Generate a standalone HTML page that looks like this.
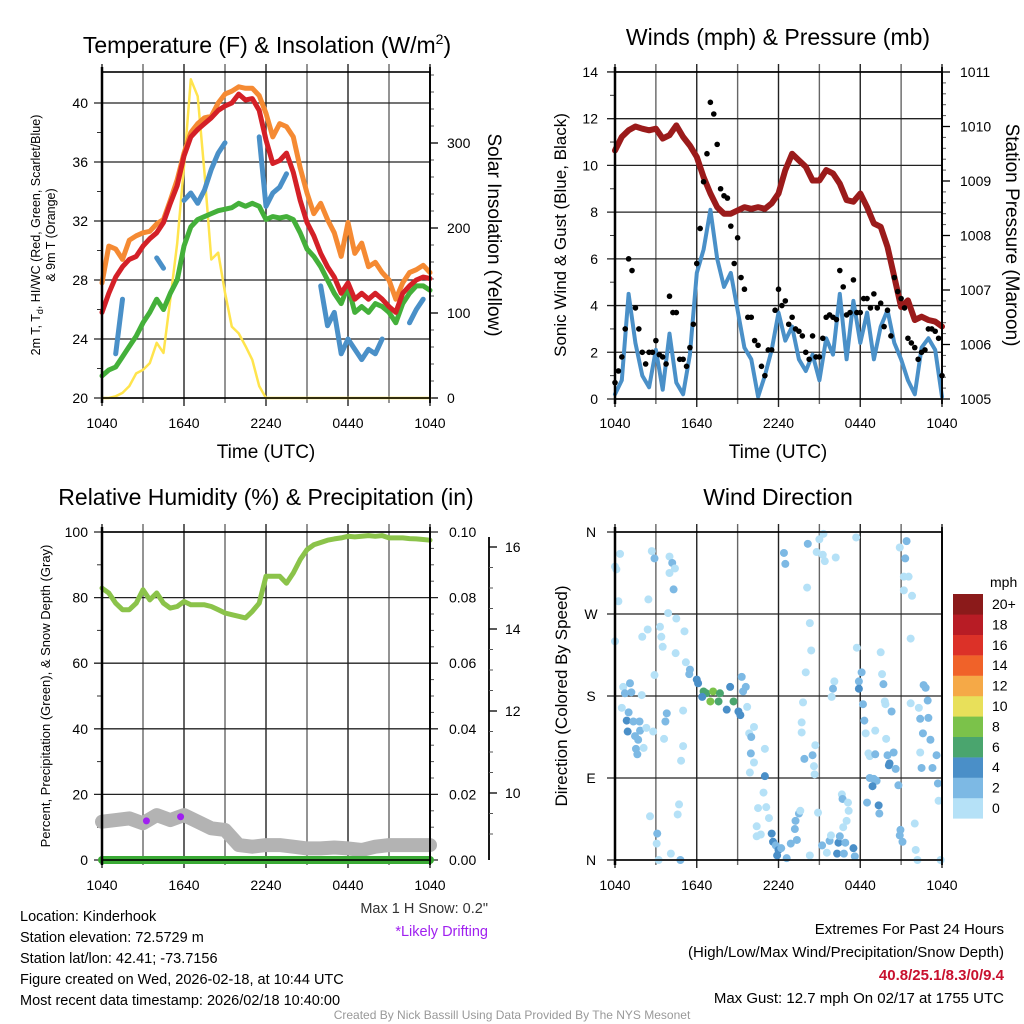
<!DOCTYPE html>
<html><head><meta charset="utf-8"><style>
html,body{margin:0;padding:0;background:#fff;}
svg{display:block;font-family:"Liberation Sans",sans-serif;}
</style></head><body>
<svg id="chart" width="1024" height="1024" viewBox="0 0 1024 1024" xmlns="http://www.w3.org/2000/svg">
<rect width="1024" height="1024" fill="#fff"/>
<g id="layer"></g>
<text x="267" y="53" font-size="23" text-anchor="middle">Temperature (F) &amp; Insolation (W/m<tspan dy="-9" font-size="14">2</tspan><tspan dy="9">)</tspan></text>
<text x="778" y="45" font-size="23" text-anchor="middle">Winds (mph) &amp; Pressure (mb)</text>
<text x="266" y="505" font-size="23" text-anchor="middle">Relative Humidity (%) &amp; Precipitation (in)</text>
<text x="778" y="505" font-size="23" text-anchor="middle">Wind Direction</text>
<text x="266" y="458" font-size="19" text-anchor="middle">Time (UTC)</text>
<text x="778" y="458" font-size="19" text-anchor="middle">Time (UTC)</text>
<text transform="translate(40,235) rotate(-90)" font-size="12.5" text-anchor="middle">2m T, T<tspan dy="3" font-size="9">d</tspan><tspan dy="-3">, HI/WC (Red, Green, Scarlet/Blue)</tspan></text>
<text transform="translate(55,235) rotate(-90)" font-size="12.5" text-anchor="middle">&amp; 9m T (Orange)</text>
<text transform="translate(488,235) rotate(90)" font-size="19" text-anchor="middle">Solar Insolation (Yellow)</text>
<text transform="translate(566,235) rotate(-90)" font-size="17" text-anchor="middle">Sonic Wind &amp; Gust (Blue, Black)</text>
<text transform="translate(1006,235) rotate(90)" font-size="19" text-anchor="middle">Station Pressure (Maroon)</text>
<text transform="translate(50,696) rotate(-90)" font-size="13" text-anchor="middle">Percent, Precipitation (Green), &amp; Snow Depth (Gray)</text>
<text transform="translate(567,696) rotate(-90)" font-size="17" text-anchor="middle">Direction (Colored By Speed)</text>
<text x="990" y="587" font-size="14">mph</text>
<g font-size="14.5">
<text x="20" y="921">Location: Kinderhook</text>
<text x="20" y="942">Station elevation: 72.5729 m</text>
<text x="20" y="963">Station lat/lon: 42.41; -73.7156</text>
<text x="20" y="984">Figure created on Wed, 2026-02-18, at 10:44 UTC</text>
<text x="20" y="1005">Most recent data timestamp: 2026/02/18 10:40:00</text>
</g>
<text x="488" y="913" font-size="14.5" text-anchor="end" fill="#333">Max 1 H Snow: 0.2"</text>
<text x="488" y="936" font-size="14.5" text-anchor="end" fill="#a020f0">*Likely Drifting</text>
<g font-size="15" text-anchor="end">
<text x="1004" y="934">Extremes For Past 24 Hours</text>
<text x="1004" y="957">(High/Low/Max Wind/Precipitation/Snow Depth)</text>
<text x="1004" y="980" fill="#c8102e" font-weight="bold">40.8/25.1/8.3/0/9.4</text>
<text x="1004" y="1003">Max Gust: 12.7 mph On 02/17 at 1755 UTC</text>
</g>
<text x="512" y="1019" font-size="12" text-anchor="middle" fill="#999">Created By Nick Bassill Using Data Provided By The NYS Mesonet</text>
</svg>
<script>
const timeLabels=["1040","1640","2240","0440","1040"];
const tempTicks=[20,24,28,32,36,40];
const solarTicks=[0,100,200,300];
const windTicks=[0,2,4,6,8,10,12,14];
const presTicks=[1005,1006,1007,1008,1009,1010,1011];
const rhTicks=[0,20,40,60,80,100];
const precipTicks=["0.00","0.02","0.04","0.06","0.08","0.10"];
const snowTicks=[10,12,14,16];
const dirTicks=["N","E","S","W","N"];
const speedBins=["0","2","4","6","8","10","12","14","16","18","20+"];
// half-hourly series from 10:40 UTC
const temp2m=[25.8,27.1,28.2,28.9,29.4,29.6,30.3,30.8,31.2,31.9,33.2,34.4,36.4,37.7,38.2,38.6,39.0,39.5,39.8,40.0,40.6,40.2,40.3,39.5,37.5,35.9,36.1,36.6,35.3,33.4,31.9,31.0,29.8,28.9,28.2,27.1,27.8,26.7,27.1,26.7,27.1,26.7,26.2,25.8,27.1,27.6,28.0,28.2,28.1];
const temp9m=[27.8,30.3,30.1,29.4,30.7,31.0,31.2,31.3,31.8,32.1,33.4,34.8,36.6,38.0,38.6,39.0,39.1,40.0,40.6,40.8,41.1,41.0,41.0,40.5,39.3,37.7,38.6,38.4,37.7,35.6,33.9,32.5,33.2,32.1,31.2,29.6,31.9,29.8,30.5,28.9,29.2,28.5,28.0,26.7,27.8,28.5,28.7,29.0,28.5];
const dewpoint=[21.5,21.9,22.1,22.8,23.5,24.2,25.1,25.8,26.7,26.0,27.1,28.0,30.3,31.6,32.1,32.3,32.5,32.7,32.8,32.9,33.2,33.0,33.2,33.0,32.1,32.3,32.2,32.3,32.1,31.2,30.1,29.6,28.9,28.0,27.1,26.4,27.6,25.8,26.2,25.8,26.4,26.2,25.8,25.1,26.4,27.1,27.6,27.6,27.3];
const windChill=[null,null,23.0,26.7,null,null,null,null,29.5,28.8,null,null,33.4,33.9,33.2,34.1,35.5,36.6,37.3,null,null,null,null,37.7,33.0,33.9,34.3,35.2,null,null,null,null,27.6,24.9,25.8,23.0,24.0,23.3,22.6,23.3,23.0,24.0,null,null,null,25.1,26.0,26.7,null];
const solar=[0,0,2,6,14,29,33,41,65,53,116,182,273,375,355,265,163,171,124,84,76,61,45,14,0,0,0,0,0,0,0,0,0,0,0,0,0,0,0,0,0,0,0,0,0,0,0,0,0];
const pressure=[1009.56,1009.81,1009.93,1010.0,1009.96,1009.93,1009.96,1009.78,1009.84,1010.02,1009.81,1009.65,1009.44,1009.07,1008.77,1008.52,1008.40,1008.40,1008.46,1008.52,1008.49,1008.52,1008.49,1008.59,1008.77,1009.20,1009.50,1009.38,1009.26,1009.01,1009.01,1009.20,1009.14,1008.95,1008.65,1008.62,1008.77,1008.52,1008.22,1008.16,1007.79,1007.24,1006.69,1006.81,1006.45,1006.51,1006.45,1006.42,1006.33];
const windSpeed=[0.2,0.8,4.5,2.4,1.0,0.5,2.1,0.4,2.8,0.7,0.2,1.9,5.4,6.4,8.1,6.0,4.8,5.4,3.8,2.2,1.7,0.1,1.0,2.1,3.7,2.5,3.1,1.7,1.2,1.9,0.8,2.6,1.9,4.5,1.7,4.2,2.4,3.7,1.7,3.1,3.8,2.4,1.7,0.8,0.2,2.2,2.6,2.1,0.1];
const gustA=[0.7,1.8,6.0,3.9,2.0,2.0,2.5,1.8,4.4,3.7,1.7,2.2,5.8,9.3,12.7,10.9,8.7,7.4,6.9,4.7,3.5,2.3,1.0,2.1,4.7,4.2,3.5,2.9,2.0,2.7,1.8,3.5,3.5,5.5,3.6,5.1,3.7,4.3,4.5,4.1,3.8,5.2,4.3,2.6,2.2,2.0,3.0,2.9,1.0];
const gustB=[1.2,3.0,5.5,3.0,1.5,2.0,1.9,1.5,3.7,1.7,1.4,3.2,7.3,10.5,12.2,9.0,8.6,5.8,5.2,3.5,2.5,1.4,2.1,3.8,4.0,3.2,3.0,2.7,1.7,1.8,2.6,3.6,3.4,4.8,3.7,3.7,4.3,3.9,3.9,3.1,2.7,4.6,3.9,2.4,1.7,2.1,3.0,2.6];
const relHumidity=[82.9,81.4,78.3,76.3,76.3,78.3,82.4,79.3,81.4,78.3,76.8,77.3,78.8,77.8,77.8,77.8,77.3,76.3,75.3,74.8,74.3,73.8,75.8,78.3,86.5,86.5,86.5,84.4,87.5,91.6,94.6,96.1,96.8,97.5,97.9,98.2,98.7,98.5,98.7,98.9,98.7,98.9,98.2,98.2,98.2,98.0,97.9,97.7,97.5];
// hourly
const snowDepth=[9.30,9.34,9.38,9.26,9.46,9.34,9.46,9.30,9.14,9.10,8.73,8.69,8.73,8.73,8.69,8.65,8.65,8.67,8.65,8.61,8.69,8.73,8.73,8.73,8.73];
const precip=[0,0,0,0,0,0,0,0,0,0,0,0,0,0,0,0,0,0,0,0,0,0,0,0,0];
const driftHours=[3.25,5.75];
const driftDepth=[9.32,9.42];
// wind direction scatter: hours since 10:40, degrees, speed mph
const dirHours=[0.37,0,0.1,0.25,0,2.7,2.9,4.0,4.2,4.4,4.0,4.3,2.45,3.9,4.5,3.3,2.4,2.0,3.4,3.5,4.45,5.1,5.2,2.9,5.5,5.45,6.0,6.1,0.6,1.1,0.73,1.2,1.96,0.5,1.0,0.86,1.35,1.8,0.93,1.84,2.3,2.8,1.47,1.7,1.54,2.1,1.64,3.8,3.7,3.6,5.0,5.0,4.85,6.5,6.7,7.2,7.7,7.0,7.6,6.4,8.45,8.7,8.2,9.06,9.2,9.3,9.6,9.4,9.7,9.85,10.2,10.0,9.97,10.2,9.9,11.0,11.0,10.9,10.5,11.1,11.3,10.4,10.4,10.7,11.5,11.6,11.8,12.0,11.9,12.2,12.6,12.9,13.35,13.2,13.25,13.5,13.6,14.3,14.9,15.2,15.55,15.75,15.85,16.4,16.5,16.9,16.3,16.8,17.5,17.6,16.75,17.0,16.65,16.7,17.1,17.15,12.4,12.5,14.15,15.0,15.3,14.8,15.25,15.4,16.2,17.7,14.1,14.3,14.4,14.0,13.8,13.7,13.7,14.7,14.5,13.9,14.6,14.65,16.1,16.0,15.9,17.75,18.1,17.9,17.9,18.2,18.3,18.4,19.1,18.6,18.7,19.1,18.7,19.0,19.2,18.9,18.5,19.35,19.4,19.5,19.6,19.7,19.8,19.85,20.3,19.9,20.0,20.15,20.1,20.45,20.6,20.8,20.9,20.95,21.1,22.0,22.07,22.2,21.4,20.9,21.3,21.2,21.55,21.2,21.8,21.7,22.65,22.8,22.95,21.7,22.3,22.4,23.0,22.6,23.15,22.4,23.6,22.5,23.3,23.7,23.75,23.9,3.06,3.1,2.57,4.7,4.6,4.1,4.8,3.2];
const dirDegrees=[336,322,319,284,240,339,331,333,326,320,315,297,286,271,265,256,253,245,245,234,227,251,217,203,209,204,198,194,190,194,183,184,181,167,162,153,152,152,141,142,145,141,136,132,122,123,116,161,152,133,164,125,109,185,183,185,183,174,174,179,190,174,165,163,159,201,190,185,168,139,146,135,117,107,96,122,92,74,57,58,46,37,26,28,29,20,16,11,5,13,2,18,22,34,43,51,54,5,52,16,8,21,27,19,26,19,7,7,13,4,36,43,72,67,63,54,337,325,347,352,358,338,335,328,332,354,299,260,230,206,173,151,140,126,115,111,103,94,196,188,179,233,206,196,188,171,153,139,142,117,114,116,90,89,87,81,63,60,51,228,204,193,174,171,163,133,115,106,104,118,100,82,27,33,20,40,11,0,350,343,331,311,311,296,290,243,192,189,175,172,167,155,156,139,132,118,115,101,101,84,65,0,18,29,48,61,50,7,0,0];
const dirSpeed=[1,1,1,1,1,1,3,1,3,1,1,3,1,1,1,1,1,1,1,1,1,1,1,1,3,3,5,5,1,3,3,3,1,1,3,5,3,3,5,3,1,1,3,3,3,1,3,3,3,1,1,1,1,7,7,9,7,9,7,5,5,7,5,5,5,3,3,3,1,1,1,3,3,1,1,1,5,1,1,1,1,1,1,1,5,5,3,5,5,3,3,3,3,3,3,3,1,1,1,3,1,3,1,5,3,3,5,3,5,3,1,1,1,3,1,1,3,3,3,1,1,1,1,1,1,1,1,1,1,1,1,1,1,1,3,3,1,1,1,3,1,1,3,3,5,3,3,1,1,1,1,3,3,3,3,5,3,5,3,1,1,3,1,1,3,1,3,5,5,3,3,3,3,3,3,1,1,1,3,1,3,1,1,1,1,1,3,3,3,1,1,3,3,3,3,1,3,3,3,3,1,1,1,3,1,1,1,1,3,1,1];
const binColors=["#b5e1f7","#7db9e4","#4a8fc8","#4aa56e","#7bc24a","#e8e05a","#f5a947","#f06229","#dc3128","#b81c25","#8b1a1a"];

const NS="http://www.w3.org/2000/svg";
const layer=document.getElementById('layer');
function mk(tag,attrs,parent){const e=document.createElementNS(NS,tag);for(const k in attrs)e.setAttribute(k,attrs[k]);(parent||layer).appendChild(e);return e;}
const P1={x0:102,x1:430,y0:72,y1:398},P2={x0:615,x1:942,y0:72,y1:399},P3={x0:102,x1:430,y0:532,y1:860},P4={x0:615,x1:942,y0:532,y1:860};
function xT(P,h){return P.x0+h/24*(P.x1-P.x0);}
const yTemp=v=>398-(v-20)*14.75, ySolar=v=>398-v*0.85;
const yWind=v=>399-v*23.36, yPres=v=>399-(v-1005)*54.5;
const yRH=v=>860-v*3.28, yPrecip=v=>860-v*3280, ySnow=v=>793-(v-10)*41;
const yDir=d=>860-d*0.9111;

function frame(P,name){
  const g=mk('g',{});
  
  
  for(let k=0;k<=8;k++){const x=xT(P,k*3);
    mk('line',{x1:x,x2:x,y1:P.y0-8,y2:P.y1+(k%2==0?8:5),stroke:k%2?'#666':'#222','stroke-width':1.4},g);}
  return g;
}
function hline(P,y,g,right){mk('line',{x1:P.x0-8,x2:P.x1+(right||0),y1:y,y2:y,stroke:'#222','stroke-width':1.3},g);}
function txt(x,y,s,attrs,parent){const t=mk('text',Object.assign({x:x,y:y,'font-size':14},attrs||{}),parent);t.textContent=s;return t;}
function border(P,name){const r=mk('rect',{x:P.x0,y:P.y0,width:P.x1-P.x0,height:P.y1-P.y0,fill:'none',stroke:'#000','stroke-width':1.6});
  
  
  mk('line',{x1:P.x0,x2:P.x0,y1:P.y0-5,y2:P.y1+5,stroke:'#000','stroke-width':2.5});
  mk('line',{x1:P.x1,x2:P.x1,y1:P.y0-5,y2:P.y1+5,stroke:'#000','stroke-width':1.8});}
function xlabels(P,y,name){timeLabels.forEach((s,i)=>{const t=txt(xT(P,i*6),y,s,{'text-anchor':'middle'});
  
  });}
function pathFrom(P,vals,step,yf){let d='',pen=false;vals.forEach((v,i)=>{if(v===null||v===undefined){pen=false;return;}
  d+=(pen?'L':'M')+xT(P,i*step).toFixed(1)+' '+yf(v).toFixed(1)+' ';pen=true;});return d;}
function line(P,vals,step,yf,color,w,name){const p=mk('path',{d:pathFrom(P,vals,step,yf),fill:'none',stroke:color,'stroke-width':w,'stroke-linejoin':'round','stroke-linecap':'round'});
  
  return p;}

// ---- Panel 1
let g=frame(P1,'temperature');
tempTicks.forEach(v=>{hline(P1,yTemp(v),g);const t=txt(88,yTemp(v)+5,String(v),{'text-anchor':'end'});
  
  
  if(v<40){mk('line',{x1:P1.x0-5,x2:P1.x0,y1:yTemp(v+2),y2:yTemp(v+2),stroke:'#333'});}});
solarTicks.forEach(v=>{mk('line',{x1:P1.x1,x2:P1.x1+8,y1:ySolar(v),y2:ySolar(v),stroke:'#000','stroke-width':1.3});
  for(let m=20;m<100;m+=20){if(ySolar(v+m)>P1.y0)mk('line',{x1:P1.x1,x2:P1.x1+4,y1:ySolar(v+m),y2:ySolar(v+m),stroke:'#555'});}
  const t=txt(447,ySolar(v)+5,String(v));
  
  });
xlabels(P1,428,'temperature');
line(P1,solar,0.5,ySolar,'#ffe44d',2.5,'solar-insolation-line');
line(P1,dewpoint,0.5,yTemp,'#44b03a',5,'dewpoint-line');
line(P1,temp9m,0.5,yTemp,'#f58a33',5,'temp-9m-line');
line(P1,temp2m,0.5,yTemp,'#d42027',5,'temp-2m-line');
line(P1,windChill,0.5,yTemp,'#4a90c8',5,'wind-chill-line');
border(P1,'temperature');

// ---- Panel 2
g=frame(P2,'winds');
windTicks.forEach(v=>{hline(P2,yWind(v),g);const t=txt(598,yWind(v)+5,String(v),{'text-anchor':'end'});
  
  
  if(v<14){mk('line',{x1:P2.x0-5,x2:P2.x0,y1:yWind(v+1),y2:yWind(v+1),stroke:'#333'});}});
presTicks.forEach(v=>{mk('line',{x1:P2.x1,x2:P2.x1+8,y1:yPres(v),y2:yPres(v),stroke:'#000','stroke-width':1.3});
  if(v<1011)for(let m=0.2;m<0.99;m+=0.2){mk('line',{x1:P2.x1,x2:P2.x1+4,y1:yPres(v+m),y2:yPres(v+m),stroke:'#555'});}
  const t=txt(960,yPres(v)+5,String(v));
  
  });
xlabels(P2,428,'winds');
line(P2,pressure,0.5,yPres,'#9b1b1b',6,'pressure-line');
line(P2,windSpeed,0.5,yWind,'#4a90c8',4,'wind-speed-line');
gustA.forEach((v,i)=>{const c=mk('circle',{cx:xT(P2,i*0.5),cy:yWind(v),r:2.8,fill:'#000'});
  
  });
gustB.forEach((v,i)=>{const c=mk('circle',{cx:xT(P2,i*0.5+0.25),cy:yWind(v),r:2.8,fill:'#000'});
  
  });
border(P2,'winds');

// ---- Panel 3
g=frame(P3,'humidity');
rhTicks.forEach((v,i)=>{hline(P3,yRH(v),g,8);const t=txt(88,yRH(v)+5,String(v),{'text-anchor':'end'});
  
  
  const t2=txt(449,yRH(v)+5,precipTicks[i]);
  
  
  if(v<100){mk('line',{x1:P3.x0-5,x2:P3.x0,y1:yRH(v+10),y2:yRH(v+10),stroke:'#333'});
    for(let m=5;m<20;m+=5)mk('line',{x1:P3.x1,x2:P3.x1+4,y1:yRH(v+m),y2:yRH(v+m),stroke:'#555'});}});
mk('line',{x1:489,x2:489,y1:537,y2:860,stroke:'#000','stroke-width':1.8});
snowTicks.forEach(v=>{mk('line',{x1:489,x2:497,y1:ySnow(v),y2:ySnow(v),stroke:'#000','stroke-width':1.3});
  if(v<16)for(let m=0.5;m<2;m+=0.5)mk('line',{x1:489,x2:493,y1:ySnow(v+m),y2:ySnow(v+m),stroke:'#555'});
  const t=txt(505,ySnow(v)+5,String(v));
  
  });
mk('line',{x1:489,x2:493,y1:ySnow(9.5),y2:ySnow(9.5),stroke:'#555'});
mk('line',{x1:489,x2:493,y1:ySnow(9),y2:ySnow(9),stroke:'#555'});
xlabels(P3,890,'humidity');
line(P3,snowDepth,1,ySnow,'#b3b3b3',14,'snow-depth-line');
driftHours.forEach((h,i)=>{const c=mk('circle',{cx:xT(P3,h),cy:ySnow(driftDepth[i]),r:3.5,fill:'#a020f0'});
  
  });
line(P3,relHumidity,0.5,yRH,'#8bc34a',5,'relative-humidity-line');
line(P3,precip,1,yPrecip,'#3aaa35',8,'precipitation-line');
border(P3,'humidity');

// ---- Panel 4
g=frame(P4,'wind-direction');
dirTicks.forEach((s,i)=>{const y=yDir(i*90);hline(P4,y,g);const t=txt(591,y+5,s,{'text-anchor':'middle'});
  
  });
xlabels(P4,890,'wind-direction');
dirHours.forEach((h,i)=>{const b=Math.min(10,Math.floor(dirSpeed[i]/2));
  const c=mk('circle',{cx:xT(P4,h),cy:yDir(dirDegrees[i]),r:4,fill:binColors[b]});
  
  });
border(P4,'wind-direction');
// colorbar
speedBins.forEach((s,i)=>{const y=594+(10-i)*20.4;
  const r=mk('rect',{x:953,y:y,width:30,height:20.6,fill:binColors[i]});
  
  
  const t=txt(992,y+15,s);
  
  });
</script>
</body></html>
